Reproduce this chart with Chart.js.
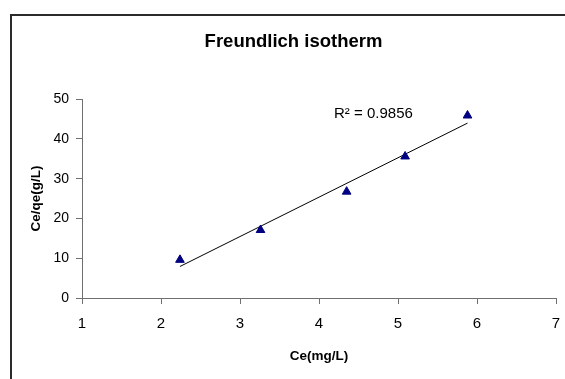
<!DOCTYPE html>
<html>
<head>
<meta charset="utf-8">
<script src="https://cdn.jsdelivr.net/npm/chart.js@4.4.1/dist/chart.umd.min.js"></script>
<style>
  html, body { margin: 0; padding: 0; background: #fff; overflow: hidden; }
</style>
</head>
<body>
<canvas id="chart1" width="565" height="379"></canvas>
<script>
// measured points: Ce (mg/L) vs Ce/qe (g/L)
const ceValues = [2.24, 3.26, 4.35, 5.09, 5.88]
const ceQeValues = [9.6, 17.1, 26.75, 35.6, 45.9]
const xTickValues = [1, 2, 3, 4, 5, 6, 7]
const yTickValues = [0, 10, 20, 30, 40, 50]

// least squares fit for the trendline and its R²
function linearFit(xs, ys) {
  var n = xs.length
  var mx = xs.reduce((a, b) => a + b, 0) / n
  var my = ys.reduce((a, b) => a + b, 0) / n
  var sxy = 0, sxx = 0, syy = 0
  for (var i = 0; i < n; i++) {
    sxy += (xs[i] - mx) * (ys[i] - my)
    sxx += (xs[i] - mx) * (xs[i] - mx)
    syy += (ys[i] - my) * (ys[i] - my)
  }
  var slope = sxy / sxx
  return { slope: slope, intercept: my - slope * mx, r2: (sxy * sxy) / (sxx * syy) }
}

const fit = linearFit(ceValues, ceQeValues)
const xMin = Math.min.apply(null, ceValues)
const xMax = Math.max.apply(null, ceValues)

const points = ceValues.map((x, i) => ({ x: x, y: ceQeValues[i] }))
const trend = [
  { x: xMin, y: fit.intercept + fit.slope * xMin },
  { x: xMax, y: fit.intercept + fit.slope * xMax },
]

Chart.defaults.font.family = "'Liberation Sans', Arial, sans-serif"
Chart.defaults.color = '#000'

// outer frame of the chart box
const frame = {
  id: 'frame',
  beforeDraw(chart) {
    var ctx = chart.ctx
    ctx.save()
    ctx.strokeStyle = '#2b2b2b'
    ctx.lineWidth = 2
    ctx.strokeRect(11, 15, 620, 420)
    ctx.restore()
  },
}

// R² text next to the trendline
const r2Anchor = { x: 4.19, y: 45.2 }
const r2Label = {
  id: 'r2Label',
  afterDatasetsDraw(chart) {
    var ctx = chart.ctx
    var px = chart.scales.x.getPixelForValue(r2Anchor.x)
    var py = chart.scales.y.getPixelForValue(r2Anchor.y)
    ctx.save()
    ctx.font = "15px 'Liberation Sans', Arial, sans-serif"
    ctx.fillStyle = '#000'
    ctx.textAlign = 'left'
    ctx.textBaseline = 'alphabetic'
    ctx.fillText('R\u00b2 = ' + fit.r2.toFixed(4), px, py)
    ctx.restore()
  },
}

const config1 = {
  type: 'scatter',
  data: {
    datasets: [
      {
        label: 'Ce/qe',
        data: points,
        pointStyle: 'triangle',
        pointRadius: 5,
        backgroundColor: '#000080',
        borderColor: '#000080',
        borderWidth: 1,
      },
      {
        label: 'trend',
        type: 'line',
        data: trend,
        borderColor: '#000',
        borderWidth: 1,
        pointRadius: 0,
        fill: false,
      },
    ],
  },
  options: {
    responsive: false,
    animation: false,
    layout: { padding: { left: 31, right: 9, top: 0, bottom: 0 } },
    plugins: {
      legend: { display: false },
      tooltip: { enabled: false },
      title: {
        display: true,
        text: 'Freundlich isotherm',
        color: '#000',
        font: { size: 18.5, weight: 'bold' },
        padding: { top: 31, bottom: 46 },
      },
    },
    scales: {
      x: {
        type: 'linear',
        min: 1,
        max: 7,
        afterBuildTicks: (s) => { s.ticks = xTickValues.map((v) => ({ value: v })) },
        afterFit: (s) => {
          s.height = 81
          s.paddingLeft = 0
          s.paddingRight = 0
        },
        grid: { drawOnChartArea: false, color: '#707070', tickLength: 6 },
        border: { color: '#707070', width: 1 },
        ticks: { font: { size: 15 }, padding: 11, color: '#000' },
        title: {
          display: true,
          text: 'Ce(mg/L)',
          font: { size: 13.5, weight: 'bold' },
          padding: { top: 0, bottom: 15 },
        },
      },
      y: {
        min: 0,
        max: 50,
        afterBuildTicks: (s) => { s.ticks = yTickValues.map((v) => ({ value: v })) },
        afterFit: (s) => { s.width = 51 },
        grid: { drawOnChartArea: false, color: '#707070', tickLength: 6 },
        border: { color: '#707070', width: 1 },
        ticks: { font: { size: 14 }, padding: 7, color: '#000' },
        title: {
          display: true,
          text: 'Ce/qe(g/L)',
          font: { size: 13.5, weight: 'bold' },
          padding: { top: -2.6, bottom: 0 },
        },
      },
    },
  },
  plugins: [frame, r2Label],
}

var chart1 = new Chart(document.getElementById('chart1').getContext('2d'), config1)
</script>
</body>
</html>
